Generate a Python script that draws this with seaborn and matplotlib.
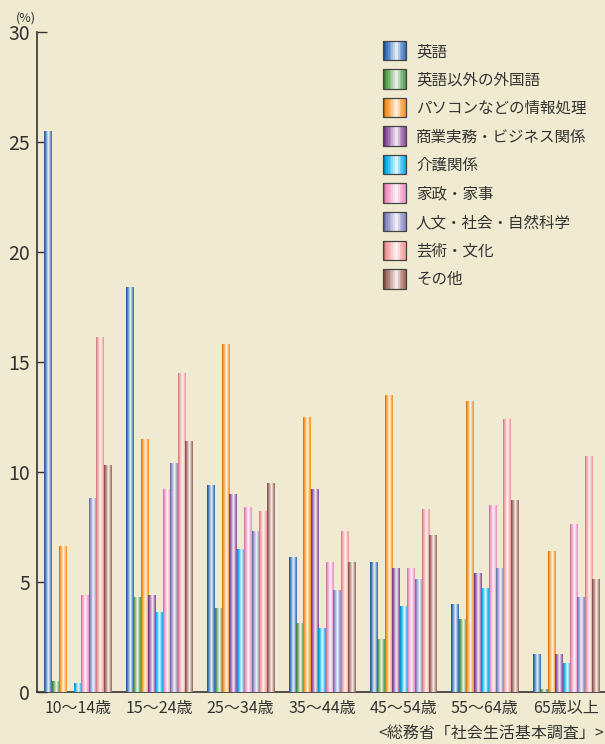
import numpy as np
import pandas as pd
import matplotlib
matplotlib.use("Agg")
import matplotlib.pyplot as plt
import seaborn as sns
from matplotlib.legend_handler import HandlerBase
from matplotlib.patches import Rectangle
from matplotlib.colors import to_rgb

# ---------------- data ----------------
age_groups = ["10〜14歳", "15〜24歳", "25〜34歳", "35〜44歳", "45〜54歳", "55〜64歳", "65歳以上"]
fields = ["英語", "英語以外の外国語", "パソコンなどの情報処理", "商業実務・ビジネス関係",
          "介護関係", "家政・家事", "人文・社会・自然科学", "芸術・文化", "その他"]

english       = [25.5, 18.4, 9.4, 6.1, 5.9, 4.0, 1.7]
other_lang    = [0.5, 4.3, 3.8, 3.1, 2.4, 3.3, 0.1]
computing     = [6.6, 11.5, 15.8, 12.5, 13.5, 13.2, 6.4]
business      = [0.0, 4.4, 9.0, 9.2, 5.6, 5.4, 1.7]
nursing       = [0.4, 3.6, 6.5, 2.9, 3.9, 4.7, 1.3]
home_econ     = [4.4, 9.2, 8.4, 5.9, 5.6, 8.5, 7.6]
humanities    = [8.8, 10.4, 7.3, 4.6, 5.1, 5.6, 4.3]
arts          = [16.1, 14.5, 8.2, 7.3, 8.3, 12.4, 10.7]
others        = [10.3, 11.4, 9.5, 5.9, 7.1, 8.7, 5.1]

series = [english, other_lang, computing, business, nursing, home_econ, humanities, arts, others]
colors = ["#2f6db8", "#4f9a47", "#f7901a", "#8a4a9a", "#00aeef",
          "#f08cbf", "#8585c4", "#f29696", "#a0665a"]
yticks = [0, 5, 10, 15, 20, 25, 30]

rows = []
for f, vals in zip(fields, series):
    for g, v in zip(age_groups, vals):
        rows.append({"age": g, "field": f, "value": v})
df = pd.DataFrame(rows)

# ---------------- style ----------------
BG = "#f0ebd0"
FONT = ["Noto Sans CJK JP", "DejaVu Sans"]
plt.rcParams["font.family"] = FONT
TXT = "#333333"

fig = plt.figure(figsize=(6.05, 7.44), dpi=100, facecolor=BG)
ax = fig.add_axes([37 / 605, 52 / 744, 570 / 605, 660 / 744])
ax.set_facecolor(BG)

sns.barplot(data=df, x="age", y="value", hue="field", order=age_groups,
            hue_order=fields, palette=colors, width=0.82, ax=ax,
            saturation=1, legend=False)


def gradient_colors(c, n=32):
    base = np.array(to_rgb(c))
    white = np.ones(3)
    t = np.linspace(0, 1, n)
    pts_t = [0.0, 0.12, 0.35, 0.58, 0.75, 1.0]
    pts_w = [-0.25, 0.0, 0.45, 0.95, 0.45, 0.0]
    w = np.interp(t, pts_t, pts_w)
    out = []
    for wi in w:
        if wi < 0:
            out.append(base * (1 + wi))
        else:
            out.append(base * (1 - wi) + white * wi)
    return np.clip(np.array(out), 0, 1)


# overlay gradients on the bars drawn by seaborn
for container, col in zip(ax.containers, colors):
    grad = gradient_colors(col)[np.newaxis, :, :]
    for p in container.patches:
        h = p.get_height()
        if h <= 0:
            p.set_visible(False)
            continue
        x0 = p.get_x()
        w = p.get_width()
        ax.imshow(grad, extent=[x0, x0 + w, 0, h], aspect="auto",
                  interpolation="bilinear", zorder=3)
        p.set_visible(False)

ax.set_xlim(-0.5, 6.5)
ax.set_ylim(0, 30)
ax.set_yticks(yticks)
ax.set_yticklabels([str(v) for v in yticks])
ax.set_xlabel("")
ax.set_ylabel("")

for s in ["top", "right"]:
    ax.spines[s].set_visible(False)
for s in ["left", "bottom"]:
    ax.spines[s].set_color(TXT)
    ax.spines[s].set_linewidth(1.2)

ax.tick_params(axis="y", direction="in", length=7, width=1.0, color=TXT,
               labelsize=14, labelcolor=TXT, pad=5)
ax.tick_params(axis="x", length=0, labelsize=11.5, labelcolor=TXT, pad=6)
ax.grid(False)

fig.text(26 / 605, 1 - 18 / 744, "(%)", fontsize=9, color=TXT,
         ha="center", va="center")
fig.text(604 / 605, 1 - 733 / 744, "<総務省「社会生活基本調査」>", fontsize=11.5,
         color=TXT, ha="right", va="center")


# ---------------- legend with gradient handles ----------------
class GradientHandler(HandlerBase):
    def __init__(self, color):
        super().__init__()
        self.color = color

    def create_artists(self, legend, orig_handle, xdescent, ydescent,
                       width, height, fontsize, trans):
        cols = gradient_colors(self.color, 14)
        n = len(cols)
        arts = []
        for i, c in enumerate(cols):
            r = Rectangle((-xdescent + width * i / n, -ydescent - 2), width / n + 0.3,
                          height + 4, facecolor=c, edgecolor="none", transform=trans)
            arts.append(r)
        outline = Rectangle((-xdescent, -ydescent - 2), width, height + 4,
                            facecolor="none", edgecolor="#444444", lw=0.9,
                            transform=trans)
        arts.append(outline)
        return arts


handles = [Rectangle((0, 0), 1, 1, color=c) for c in colors]
handler_map = {h: GradientHandler(c) for h, c in zip(handles, colors)}
leg = ax.legend(handles, fields, handler_map=handler_map, loc="upper left",
                bbox_to_anchor=(383 / 605, 1 - 43 / 744), bbox_transform=fig.transFigure,
                frameon=False, fontsize=11.2, handlelength=1.5, handleheight=1.0,
                handletextpad=0.62, labelspacing=0.74, borderpad=0, borderaxespad=0)
for t in leg.get_texts():
    t.set_color(TXT)

fig.savefig("out.png", dpi=100, facecolor=BG)
